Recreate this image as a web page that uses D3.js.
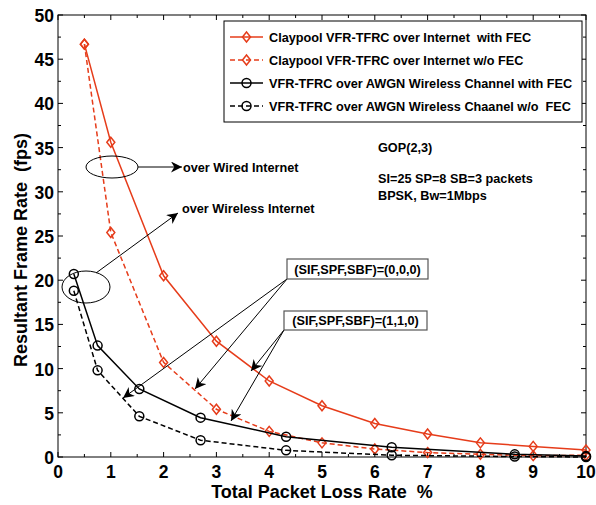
<!DOCTYPE html>
<html>
<head>
<meta charset="utf-8">
<script src="https://cdn.jsdelivr.net/npm/d3@7"></script>
<style>
  body { margin: 0; background: #fff; }
  text { font-family: Arial, "Liberation Sans", sans-serif; font-weight: bold; white-space: pre; }
</style>
</head>
<body>
<div id="chart"></div>
<script>
// data
var lossRed = [0.5, 1, 2, 3, 4, 5, 6, 7, 8, 9, 10];
var claypoolFec = [46.7, 35.6, 20.5, 13.1, 8.6, 5.8, 3.8, 2.6, 1.6, 1.2, 0.8];
var claypoolNoFec = [46.7, 25.4, 10.7, 5.4, 2.9, 1.6, 0.9, 0.5, 0.3, 0.15, 0.2];
var lossBlack = [0.3, 0.75, 1.54, 2.7, 4.32, 6.32, 8.65, 10];
var awgnFec = [20.7, 12.6, 7.7, 4.45, 2.3, 1.1, 0.3, 0.1];
var awgnNoFec = [18.8, 9.8, 4.6, 1.9, 0.75, 0.2, 0.05, 0.0];
var xTicks = [0, 1, 2, 3, 4, 5, 6, 7, 8, 9, 10];
var yTicks = [0, 5, 10, 15, 20, 25, 30, 35, 40, 45, 50];
var legendLabels = [
  "Claypool VFR-TFRC over Internet  with FEC",
  "Claypool VFR-TFRC over Internet w/o FEC",
  "VFR-TFRC over AWGN Wireless Channel with FEC",
  "VFR-TFRC over AWGN Wireless Chaanel w/o  FEC"
];

var red = "#e63c1a";
var width = 596, height = 505;
var margin = {top: 15, right: 10, bottom: 48, left: 58};

var svg = d3.select("#chart").append("svg")
    .attr("width", width)
    .attr("height", height);

var x = d3.scaleLinear().domain([0, 10]).range([margin.left, width - margin.right]);
var y = d3.scaleLinear().domain([0, 50]).range([height - margin.bottom, margin.top]);

var defs = svg.append("defs");
defs.append("marker")
    .attr("id", "arrow")
    .attr("viewBox", "0 0 10 10")
    .attr("refX", 10).attr("refY", 5)
    .attr("markerWidth", 11).attr("markerHeight", 11)
    .attr("markerUnits", "userSpaceOnUse")
    .attr("orient", "auto")
    .append("path")
    .attr("d", "M0,0 L10,5 L0,10 L3,5 Z")
    .attr("fill", "#000");

// frame
svg.append("rect")
    .attr("x", x(0)).attr("y", y(50))
    .attr("width", x(10) - x(0)).attr("height", y(0) - y(50))
    .attr("fill", "none").attr("stroke", "#000").attr("stroke-width", 1);

// ticks (inside, on all four sides)
var xMinor = d3.range(0, 10.01, 0.5);
var yMinor = d3.range(0, 50.01, 2.5);
var tk = svg.append("g").attr("stroke", "#000").attr("stroke-width", 1);
xMinor.forEach(function (v) {
    var len = (v % 1 === 0) ? 5 : 3;
    tk.append("line").attr("x1", x(v)).attr("x2", x(v)).attr("y1", y(0)).attr("y2", y(0) - len);
    tk.append("line").attr("x1", x(v)).attr("x2", x(v)).attr("y1", y(50)).attr("y2", y(50) + len);
});
yMinor.forEach(function (v) {
    var len = (v % 5 === 0) ? 5 : 3;
    tk.append("line").attr("y1", y(v)).attr("y2", y(v)).attr("x1", x(0)).attr("x2", x(0) + len);
    tk.append("line").attr("y1", y(v)).attr("y2", y(v)).attr("x1", x(10)).attr("x2", x(10) - len);
});

svg.selectAll(".xlab").data(xTicks).enter().append("text")
    .attr("x", function (d) { return x(d); })
    .attr("y", y(0) + 21)
    .attr("text-anchor", "middle")
    .style("font-size", "17.5px")
    .text(function (d) { return d; });

svg.selectAll(".ylab").data(yTicks).enter().append("text")
    .attr("x", x(0) - 4)
    .attr("y", function (d) { return y(d) + 7; })
    .attr("text-anchor", "end")
    .style("font-size", "17.5px")
    .text(function (d) { return d; });

svg.append("text")
    .attr("x", 322)
    .attr("y", 498)
    .attr("text-anchor", "middle")
    .style("font-size", "18px")
    .text("Total Packet Loss Rate  %");

svg.append("text")
    .attr("transform", "translate(27,250) rotate(-90)")
    .attr("text-anchor", "middle")
    .style("font-size", "18px")
    .text("Resultant Frame Rate  (fps)");

// series
var line = d3.line()
    .x(function (d) { return x(d[0]); })
    .y(function (d) { return y(d[1]); });

var series = [
    {xs: lossRed, ys: claypoolFec, color: red, dash: null, marker: "diamond"},
    {xs: lossRed, ys: claypoolNoFec, color: red, dash: "5,3", marker: "diamond"},
    {xs: lossBlack, ys: awgnFec, color: "#000", dash: null, marker: "circle"},
    {xs: lossBlack, ys: awgnNoFec, color: "#000", dash: "5,3", marker: "circle"}
];

function drawMarker(g, type, cx, cy, color) {
    if (type === "diamond") {
        g.append("path")
            .attr("d", "M" + cx + "," + (cy - 5) + " L" + (cx + 4) + "," + cy +
                " L" + cx + "," + (cy + 5) + " L" + (cx - 4) + "," + cy + " Z")
            .attr("fill", "none").attr("stroke", color).attr("stroke-width", 1.5);
    } else {
        g.append("circle")
            .attr("cx", cx).attr("cy", cy).attr("r", 4.5)
            .attr("fill", "none").attr("stroke", color).attr("stroke-width", 1.5);
    }
}

var plot = svg.append("g");
series.forEach(function (s) {
    var pts = s.xs.map(function (v, i) { return [v, s.ys[i]]; });
    plot.append("path")
        .datum(pts)
        .attr("d", line)
        .attr("fill", "none")
        .attr("stroke", s.color)
        .attr("stroke-width", 1.5)
        .attr("stroke-dasharray", s.dash);
    pts.forEach(function (p) {
        drawMarker(plot, s.marker, x(p[0]), y(p[1]), s.color);
    });
});

// legend
var lg = svg.append("g");
lg.append("rect")
    .attr("x", 224).attr("y", 21).attr("width", 358).attr("height", 101)
    .attr("fill", "#fff").attr("stroke", "#000").attr("stroke-width", 1);
series.forEach(function (s, i) {
    var ly = 37 + i * 23;
    lg.append("line")
        .attr("x1", 230).attr("x2", 263).attr("y1", ly).attr("y2", ly)
        .attr("stroke", s.color).attr("stroke-width", 1.5)
        .attr("stroke-dasharray", s.dash);
    drawMarker(lg, s.marker, 246.5, ly, s.color);
    lg.append("text")
        .attr("x", 269).attr("y", ly + 4.5)
        .style("font-size", "12.7px")
        .text(legendLabels[i]);
});

// annotations
var an = svg.append("g");
an.append("ellipse")
    .attr("cx", 112).attr("cy", 167).attr("rx", 26).attr("ry", 11)
    .attr("fill", "none").attr("stroke", "#000");
an.append("line")
    .attr("x1", 138).attr("y1", 167).attr("x2", 182).attr("y2", 167)
    .attr("stroke", "#000").attr("marker-end", "url(#arrow)");
an.append("text").attr("x", 183).attr("y", 171.5)
    .style("font-size", "12.7px").text("over Wired Internet");

an.append("ellipse")
    .attr("cx", 86).attr("cy", 287).attr("rx", 24).attr("ry", 16)
    .attr("fill", "none").attr("stroke", "#000");
an.append("line")
    .attr("x1", 96).attr("y1", 273).attr("x2", 178).attr("y2", 213)
    .attr("stroke", "#000").attr("marker-end", "url(#arrow)");
an.append("text").attr("x", 182).attr("y", 213)
    .style("font-size", "12.7px").text("over Wireless Internet");

an.append("text").attr("x", 378).attr("y", 152)
    .style("font-size", "12.7px").text("GOP(2,3)");
an.append("text").attr("x", 378).attr("y", 183)
    .style("font-size", "12.7px").text("SI=25 SP=8 SB=3 packets");
an.append("text").attr("x", 378).attr("y", 200)
    .style("font-size", "12.7px").text("BPSK, Bw=1Mbps");

var boxes = [
    {label: "(SIF,SPF,SBF)=(0,0,0)", bx: 287, by: 259, bw: 141, bh: 20,
     targets: [[123, 398], [195, 389]]},
    {label: "(SIF,SPF,SBF)=(1,1,0)", bx: 284, by: 311, bw: 143, bh: 19,
     targets: [[251, 371], [231, 421]]}
];
boxes.forEach(function (b) {
    b.targets.forEach(function (t) {
        an.append("line")
            .attr("x1", b.bx).attr("y1", b.by + b.bh)
            .attr("x2", t[0]).attr("y2", t[1])
            .attr("stroke", "#000").attr("marker-end", "url(#arrow)");
    });
    an.append("rect")
        .attr("x", b.bx).attr("y", b.by).attr("width", b.bw).attr("height", b.bh)
        .attr("fill", "#fff").attr("stroke", "#555").attr("stroke-width", 1.2);
    an.append("text")
        .attr("x", b.bx + b.bw / 2).attr("y", b.by + b.bh / 2 + 4.5)
        .attr("text-anchor", "middle")
        .style("font-size", "12.7px").text(b.label);
});
</script>
</body>
</html>
